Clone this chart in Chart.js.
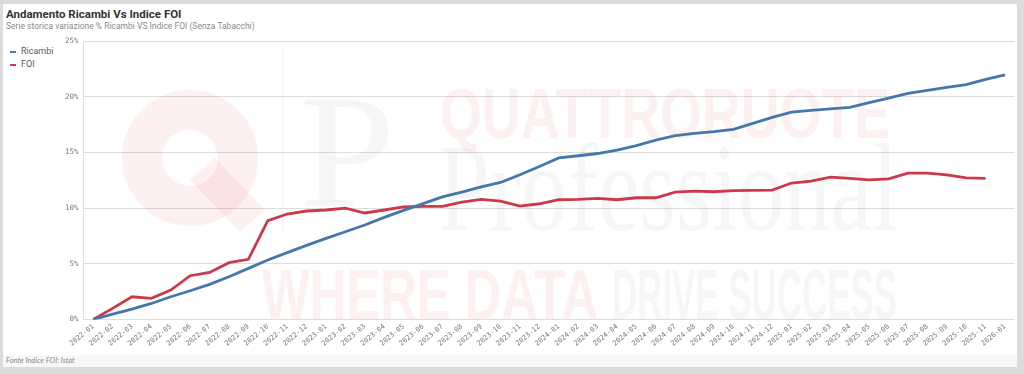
<!DOCTYPE html>
<html>
<head>
<meta charset="utf-8">
<script src="https://cdn.jsdelivr.net/npm/chart.js@4.4.1/dist/chart.umd.min.js"></script>
<style>
    html, body { margin: 0; padding: 0; }
    body { width: 1024px; height: 374px; background: #dcdcdc; position: relative; overflow: hidden; font-family: Roboto, "Noto Sans", sans-serif; }
    #panel { position: absolute; left: 3px; top: 4px; width: 1014px; height: 363px; background: #fff; }
    #foot { position: absolute; left: 3px; top: 355px; width: 1014px; height: 12px; background: #f7f7f7; }
    #title { position: absolute; left: 6px; top: 7px; font-size: 11.5px; font-weight: bold; color: #333; white-space: nowrap; }
    #subtitle { position: absolute; left: 6px; top: 21px; font-size: 8.5px; color: #8a8a8a; white-space: nowrap; }
    .leg { position: absolute; left: 10px; font-size: 9px; color: #595959; white-space: nowrap; }
    .leg i { display: inline-block; width: 6px; height: 2px; vertical-align: middle; margin-right: 5px; }
    #source { position: absolute; left: 6px; top: 356px; font-size: 7.5px; font-style: italic; color: #8a8a8a; font-family: Lato, sans-serif; }
    #chart { position: absolute; left: 0; top: 0; }
</style>
</head>
<body>
<div id="panel"></div>
<div id="foot"></div>
<div id="title">Andamento Ricambi Vs Indice FOI</div>
<div id="subtitle">Serie storica variazione % Ricambi VS Indice FOI (Senza Tabacchi)</div>
<div class="leg" style="top:46px"><i style="background:#4477aa"></i>Ricambi</div>
<div class="leg" style="top:59px"><i style="background:#cc3a4a"></i>FOI</div>
<div id="source">Fonte Indice FOI: Istat</div>
<canvas id="chart" width="1024" height="374"></canvas>
<script>
// START OF DATA
const months = [
    '2022-01', '2022-02', '2022-03', '2022-04', '2022-05', '2022-06', '2022-07', '2022-08', '2022-09', '2022-10', '2022-11', '2022-12',
    '2023-01', '2023-02', '2023-03', '2023-04', '2023-05', '2023-06', '2023-07', '2023-08', '2023-09', '2023-10', '2023-11', '2023-12',
    '2024-01', '2024-02', '2024-03', '2024-04', '2024-05', '2024-06', '2024-07', '2024-08', '2024-09', '2024-10', '2024-11', '2024-12',
    '2025-01', '2025-02', '2025-03', '2025-04', '2025-05', '2025-06', '2025-07', '2025-08', '2025-09', '2025-10', '2025-11', '2026-01'
];

const ricambi = [
    0, 0.48, 0.93, 1.44, 2.04, 2.58, 3.15, 3.84, 4.59, 5.34, 6.0, 6.65,
    7.28, 7.88, 8.48, 9.17, 9.8, 10.4, 11.0, 11.44, 11.9, 12.3, 13.0, 13.74,
    14.5, 14.7, 14.9, 15.2, 15.6, 16.1, 16.5, 16.7, 16.86, 17.07, 17.6, 18.14,
    18.62, 18.77, 18.9, 19.04, 19.46, 19.88, 20.3, 20.57, 20.84, 21.08, 21.56, 21.95
];

const foi = [
    0, 1.0, 2.04, 1.9, 2.64, 3.93, 4.23, 5.1, 5.4, 8.87, 9.47, 9.74,
    9.83, 10.0, 9.56, 9.83, 10.1, 10.15, 10.15, 10.54, 10.78, 10.63, 10.18, 10.39,
    10.75, 10.78, 10.87, 10.75, 10.93, 10.93, 11.44, 11.53, 11.47, 11.56, 11.59, 11.62,
    12.25, 12.43, 12.78, 12.66, 12.54, 12.63, 13.14, 13.14, 12.99, 12.72, 12.66, null
];

const yTicks = [0, 5, 10, 15, 20, 25];
// END OF DATA


// START OF WATERMARK
function fitText(ctx, text, x, baseline, width, font, color) {
    ctx.font = font;
    const w = ctx.measureText(text).width;
    ctx.save();
    ctx.translate(x, baseline);
    ctx.scale(width / w, 1);
    ctx.fillStyle = color;
    ctx.fillText(text, 0, 0);
    ctx.restore();
}

const watermark = {
    id: 'watermark',
    beforeDatasetsDraw(chart) {
        const ctx = chart.ctx;
        const pink = 'rgba(225, 60, 60, 0.08)';
        const grey = 'rgba(110, 125, 110, 0.07)';
        ctx.save();
        ctx.textBaseline = 'alphabetic';

        // Q logo
        ctx.strokeStyle = pink;
        ctx.lineWidth = 40;
        ctx.beginPath();
        ctx.arc(190, 158, 48, 0, Math.PI * 2);
        ctx.stroke();
        ctx.fillStyle = pink;
        ctx.beginPath();
        ctx.moveTo(190, 180);
        ctx.lineTo(215, 158);
        ctx.lineTo(265, 210);
        ctx.lineTo(240, 232);
        ctx.closePath();
        ctx.fill();

        // P and divider
        ctx.fillStyle = grey;
        ctx.fillRect(282, 45, 1.5, 190);
        fitText(ctx, 'P', 300, 205, 95, '160px "Liberation Serif"', grey);

        fitText(ctx, 'QUATTRORUOTE', 440, 138, 450, 'bold 70px "Liberation Sans"', pink);
        fitText(ctx, 'Professional', 438, 230, 460, '125px "Liberation Serif"', grey);
        fitText(ctx, 'WHERE DATA', 262, 319, 336, 'bold 70px "Liberation Sans"', pink);
        fitText(ctx, 'DRIVE SUCCESS', 612, 319, 285, 'bold 70px "Liberation Sans"', grey);
        ctx.restore();
    }
};
// END OF WATERMARK


// START OF GRAPH INIT
Chart.defaults.font.family = '"DejaVu Sans Mono", monospace';

new Chart(document.getElementById('chart'), {
    type: 'line',
    data: {
        labels: months,
        datasets: [
            {
                label: 'Ricambi',
                data: ricambi,
                borderColor: '#4477aa',
                backgroundColor: '#4477aa',
                borderWidth: 2.8,
                pointRadius: 0,
                tension: 0
            },
            {
                label: 'FOI',
                data: foi,
                borderColor: '#cc3a4a',
                backgroundColor: '#cc3a4a',
                borderWidth: 2.8,
                pointRadius: 0,
                tension: 0
            }
        ]
    },
    options: {
        responsive: false,
        animation: false,
        layout: { padding: { left: 40, top: 41, right: 9.3, bottom: 0 } },
        plugins: {
            legend: { display: false },
            tooltip: { enabled: false }
        },
        scales: {
            x: {
                offset: true,
                grid: { display: false, drawTicks: false },
                border: { display: false },
                ticks: {
                    autoSkip: false,
                    minRotation: 40,
                    maxRotation: 40,
                    padding: 3,
                    color: '#777',
                    font: { size: 7 }
                },
                afterFit: (scale) => { scale.height = 54.5; }
            },
            y: {
                min: 0,
                max: 25,
                afterBuildTicks: (scale) => { scale.ticks = yTicks.map(v => ({ value: v })); },
                grid: { color: '#dedede', lineWidth: 1, drawTicks: false },
                border: { display: true, color: '#dedede' },
                ticks: {
                    padding: 5,
                    color: '#777',
                    font: { size: 7.5 },
                    callback: (v) => v + '%'
                },
                afterFit: (scale) => { scale.width = 43.5; }
            }
        }
    },
    plugins: [watermark]
});
// END OF GRAPH INIT
</script>
</body>
</html>
